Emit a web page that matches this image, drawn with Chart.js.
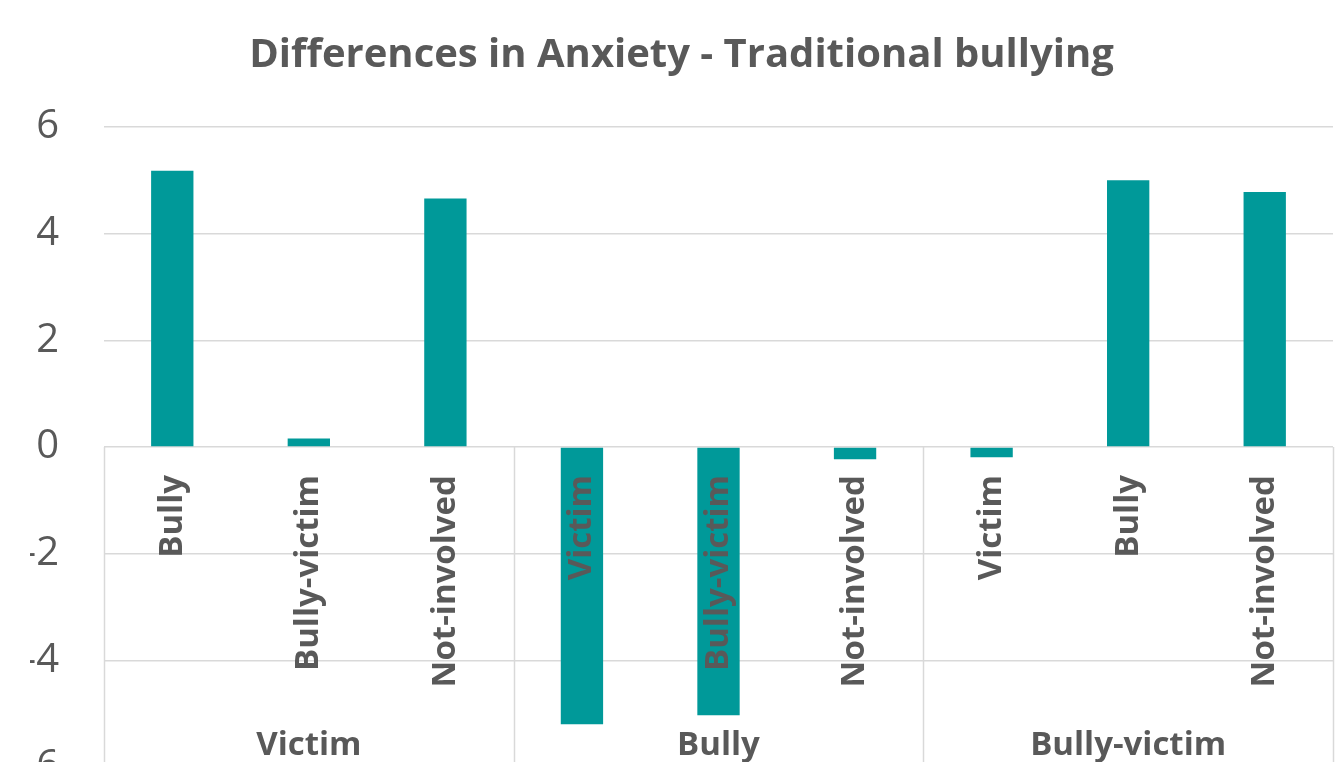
<!DOCTYPE html>
<html>
<head>
<meta charset="utf-8">
<script src="https://cdn.jsdelivr.net/npm/chart.js@4/dist/chart.umd.min.js"></script>
<style>
  html, body { margin: 0; padding: 0; background: #ffffff; overflow: hidden; }
  #wrap { position: absolute; left: 0; top: 0; width: 1337px; height: 762px; }
</style>
</head>
<body>
<div id="wrap"><canvas id="c"></canvas></div>
<script>
const chartTitle = 'Differences in Anxiety - Traditional bullying';
const groups = ['Victim', 'Bully', 'Bully-victim'];
const victimSub = ['Bully', 'Bully-victim', 'Not-involved'];
const bullySub = ['Victim', 'Bully-victim', 'Not-involved'];
const bullyVictimSub = ['Victim', 'Bully', 'Not-involved'];
const victimValues = [5.18, 0.16, 4.66];
const bullyValues = [-5.20, -5.03, -0.23];
const bullyVictimValues = [-0.19, 5.00, 4.78];
const yTicks = [-4, -2, 0, 2, 4, 6];
const yCutTick = -6;          // axis tick label only partly visible at the cropped bottom
const yMax = 6;
const yVisibleMin = -5.906;   // the picture is cropped just above -6

const subLabels = [victimSub, bullySub, bullyVictimSub];
const categories = [].concat(victimSub, bullySub, bullyVictimSub);
const values = [].concat(victimValues, bullyValues, bullyVictimValues);

const TEXT = '#595959';
const GRID = '#d9d9d9';
const BAR = '#009999';
const FONT = '"Open Sans", "Liberation Sans", sans-serif';

const labelPlugin = {
  id: 'excelLabels',
  afterDatasetsDraw(chart) {
    const ctx = chart.ctx;
    const xs = chart.scales.x;
    const ys = chart.scales.y;
    const area = chart.chartArea;
    const y0 = ys.getPixelForValue(0);
    const bounds = [area.left];
    let idx = 0;
    subLabels.forEach((subs) => {
      idx += subs.length;
      if (idx < categories.length) {
        bounds.push((xs.getPixelForValue(idx - 1) + xs.getPixelForValue(idx)) / 2);
      }
    });
    bounds.push(area.right);
    ctx.save();
    ctx.strokeStyle = GRID;
    ctx.lineWidth = 1.5;
    bounds.forEach((bx) => {
      ctx.beginPath();
      ctx.moveTo(Math.round(bx) + 0.5, y0);
      ctx.lineTo(Math.round(bx) + 0.5, chart.height + 5);
      ctx.stroke();
    });
    ctx.fillStyle = TEXT;
    ctx.font = 'bold 33px ' + FONT;
    categories.forEach((lab, i) => {
      const x = xs.getPixelForValue(i);
      ctx.save();
      ctx.translate(x, y0 + 28);
      ctx.rotate(-Math.PI / 2);
      ctx.textAlign = 'right';
      ctx.textBaseline = 'middle';
      ctx.fillText(lab, 0, 0);
      ctx.restore();
    });
    ctx.textAlign = 'center';
    ctx.textBaseline = 'alphabetic';
    ctx.font = 'bold 33px ' + FONT;
    groups.forEach((g, gi) => {
      const cx = (bounds[gi] + bounds[gi + 1]) / 2;
      ctx.fillText(g, cx, 755);
    });
    // cropped bottom tick label
    ctx.font = '40px ' + FONT;
    ctx.textAlign = 'right';
    ctx.textBaseline = 'middle';
    ctx.fillText(String(yCutTick), area.left - 45, ys.getPixelForValue(yCutTick));
    ctx.restore();
  }
};

new Chart(document.getElementById('c'), {
  type: 'bar',
  data: {
    labels: categories,
    datasets: [{
      data: values,
      backgroundColor: BAR,
      borderWidth: 0,
      barPercentage: 0.31,
      categoryPercentage: 1.0
    }]
  },
  options: {
    responsive: true,
    maintainAspectRatio: false,
    animation: false,
    devicePixelRatio: 1,
    layout: { padding: { left: 30, right: 4, top: 0, bottom: 0 } },
    plugins: {
      legend: { display: false },
      tooltip: { enabled: false },
      title: {
        display: true,
        text: chartTitle,
        color: TEXT,
        font: { family: FONT, size: 40, weight: 'bold', lineHeight: 1.2 },
        padding: { top: 32, bottom: 47 }
      }
    },
    scales: {
      x: {
        type: 'category',
        display: false,
        offset: true
      },
      y: {
        min: yVisibleMin,
        max: yMax,
        afterFit(scale) { scale.width = 74; scale.paddingBottom = 0; scale.paddingTop = 0; },
        afterBuildTicks(scale) { scale.ticks = yTicks.map(v => ({ value: v })); },
        ticks: {
          color: TEXT,
          font: { family: FONT, size: 40 },
          padding: 45
        },
        grid: { color: GRID, lineWidth: 1.5, drawTicks: false },
        border: { display: false }
      }
    }
  },
  plugins: [labelPlugin]
});
</script>
</body>
</html>
